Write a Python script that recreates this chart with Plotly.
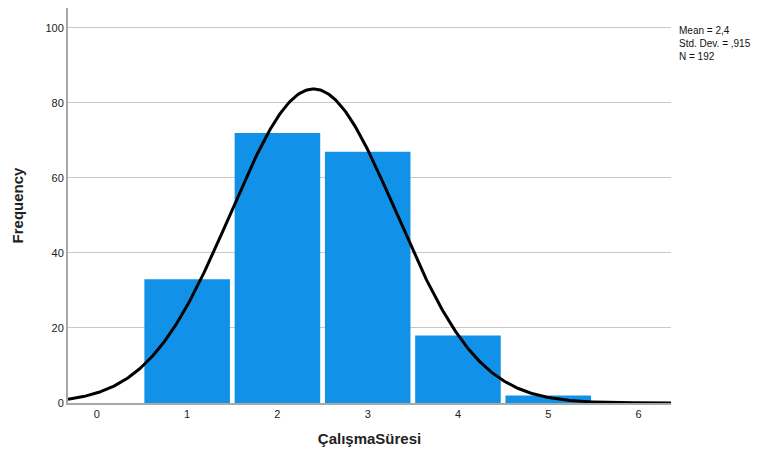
import numpy as np
import plotly.graph_objects as go

categories = [1, 2, 3, 4, 5]
frequencies = [33, 72, 67, 18, 2]
mean_val = 2.4
std_val = 0.915
n_val = 192
x_ticks = [0, 1, 2, 3, 4, 5, 6]
y_ticks = [0, 20, 40, 60, 80, 100]

x_min, x_max = -0.32, 6.36
xs = np.linspace(x_min, x_max, 400)
ys = n_val * 1.0 / (std_val * np.sqrt(2 * np.pi)) * np.exp(-0.5 * ((xs - mean_val) / std_val) ** 2)

fig = go.Figure()
fig.add_trace(go.Bar(x=categories, y=frequencies, width=0.948,
                     marker=dict(color="#1192e8", line=dict(width=0)),
                     hoverinfo="skip"))
fig.add_trace(go.Scatter(x=xs, y=ys, mode="lines", line=dict(color="black", width=3),
                         hoverinfo="skip"))

fig.update_layout(
    width=763, height=453,
    margin=dict(l=68, r=92, t=8, b=50),
    plot_bgcolor="white", paper_bgcolor="white",
    showlegend=False,
    font=dict(family="Arial, Liberation Sans, sans-serif", size=11, color="#222"),
    xaxis=dict(range=[x_min, x_max], tickvals=x_ticks, showgrid=False, zeroline=False,
               showline=True, linecolor="#a8a8a8", linewidth=2, ticks="", ticklen=0,
               tickfont=dict(size=11, color="#222"),
               title=dict(text="<b>ÇalışmaSüresi</b>", font=dict(size=15, color="#222"), standoff=14)),
    yaxis=dict(range=[0, 105.3], tickvals=y_ticks, showgrid=True, gridcolor="#c8c8c8", gridwidth=1,
               zeroline=False, showline=True, linecolor="#a8a8a8", linewidth=2, ticks="",
               tickfont=dict(size=11, color="#222"),
               title=dict(text="<b>Frequency</b>", font=dict(size=15, color="#222"), standoff=18)),
    annotations=[dict(xref="paper", yref="paper", x=1.0, y=1.0, xshift=6, yshift=-15,
                      xanchor="left", yanchor="top", align="left", showarrow=False,
                      text=f"Mean = 2,4<br>Std. Dev. = ,915<br>N = {n_val}",
                      font=dict(size=10, color="#111"))],
)

fig.write_html("out.html")
